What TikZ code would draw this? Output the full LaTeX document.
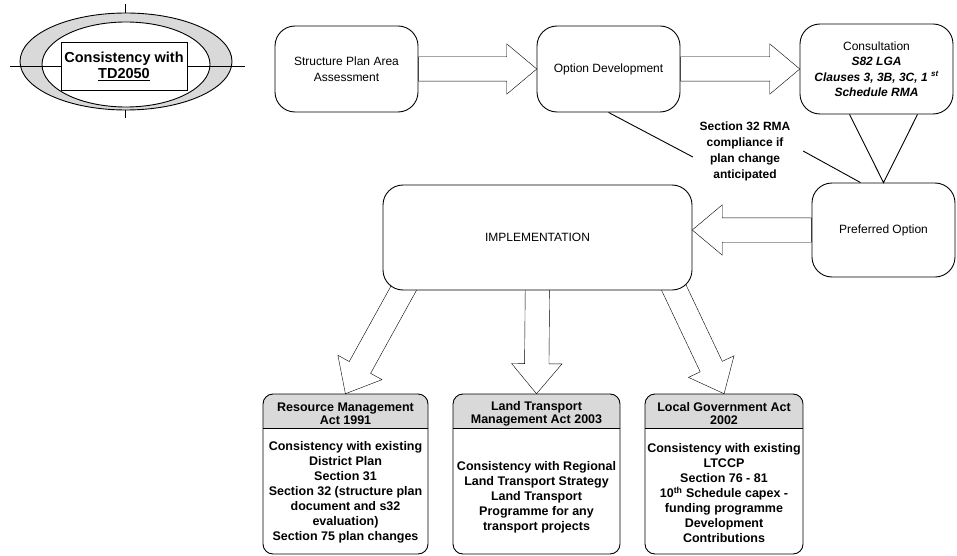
\documentclass[tikz,border=0pt]{standalone}
\usepackage{fontspec}
\setmainfont{Liberation Sans}
\usetikzlibrary{shapes.arrows,calc,backgrounds}
\begin{document}
\begin{tikzpicture}[x=1pt, y=-1pt, line width=0.9pt,
    stagebox/.style={draw, fill=white, rounded corners=20pt, align=center, font=\fontsize{12}{16}\selectfont},
    actbox/.style={draw, fill=white, rounded corners=10pt, minimum height=160pt,
      path picture={\fill[gray!30, sharp corners] (path picture bounding box.north west) rectangle ([yshift=-34pt]path picture bounding box.north east);
        \draw[sharp corners] ([yshift=-34pt]path picture bounding box.north west) -- ([yshift=-34pt]path picture bounding box.north east);}},
    acthead/.style={align=center, font=\fontsize{12.5}{13}\selectfont\bfseries},
    actbody/.style={align=center, font=\fontsize{12.5}{15}\selectfont\bfseries},
    bigarrow/.style={single arrow, draw, fill=white, inner sep=0pt, inner ysep=12pt, minimum width=50pt,
      single arrow head extend=13pt, single arrow tip angle=80, anchor=tail}]
    \useasboundingbox (0,0) rectangle (957,556);
    \draw (125,4) -- (125,118);
    \filldraw[fill=gray!30] (126,61.5) ellipse [x radius=106pt, y radius=48.5pt];
    \filldraw[fill=white] (126,64.5) ellipse [x radius=84pt, y radius=42.5pt];
    \draw (10,66) -- (245,66);
    \node[draw, fill=white, minimum width=126pt, minimum height=48pt, align=center,
      font=\fontsize{14.5}{16}\selectfont\bfseries] (td) at (124,66) {Consistency with\\\underline{TD2050}};

    \node[stagebox, minimum width=143pt, minimum height=86pt] (spa) at (346.5,69) {Structure Plan Area\\Assessment};
    \node[stagebox, minimum width=143pt, minimum height=86pt] (od) at (608.5,69) {Option Development};
    \node[stagebox, minimum width=153pt, minimum height=90pt, font=\fontsize{12}{15.5}\selectfont] (cons) at (876.5,69)
      {Consultation\\\textbf{\textit{S82 LGA}}\\\textbf{\textit{Clauses 3, 3B, 3C, 1 \textsuperscript{st}}}\\\textbf{\textit{Schedule RMA}}};
    \node[stagebox, minimum width=143pt, minimum height=94pt] (pref) at (883.5,230) {Preferred Option};
    \node[stagebox, minimum width=309pt, minimum height=105pt] (impl) at (537.5,237.5) {IMPLEMENTATION};

    \node[align=center, font=\fontsize{12}{16}\selectfont\bfseries] (s32) at (745,151)
      {Section 32 RMA\\compliance if\\plan change\\anticipated};
    \draw (od.south) -- ([shift={(-3pt,-6pt)}]s32.west);
    \draw ([xshift=9pt]s32.east) -- ([xshift=-23pt]pref.north);
    \draw ([xshift=-27pt]cons.south) -- (pref.north) -- ([xshift=41pt]cons.south);

    \foreach \nm/\cx/\w in {rma/345.5/165, ltma/536.5/167, lga/724/158}
      \node[actbox, minimum width=\w pt] (\nm) at (\cx,474) {};
    \node[acthead] (rmahead) at (345.5,413.5) {Resource Management\\Act 1991};
    \node[actbody] (rmabody) at (345.5,492) {Consistency with existing\\District Plan\\Section 31\\Section 32 (structure plan\\document and s32\\evaluation)\\Section 75 plan changes};
    \node[acthead] (ltmahead) at (536.5,413.5) {Land Transport\\Management Act 2003};
    \node[actbody] (ltmabody) at (536.5,497) {Consistency with Regional\\Land Transport Strategy\\Land Transport\\Programme for any\\transport projects};
    \node[acthead] (lgahead) at (724,413.5) {Local Government Act\\2002};
    \node[actbody] (lgabody) at (724,493) {Consistency with existing\\LTCCP\\Section 76 - 81\\10\textsuperscript{th} Schedule capex -\\funding programme\\Development\\Contributions};

    \coordinate (implin) at (impl.east |- pref.west);
    \coordinate (rmaout) at ([shift={(26pt,11pt)}]impl.south west);
    \coordinate (ltmaout) at ([yshift=10pt]impl.south);
    \coordinate (lgaout) at ([shift={(-23pt,12pt)}]impl.south east);
    \begin{scope}[on background layer]
      \foreach \from/\to in {spa.east/od.west, od.east/cons.west, pref.west/implin,
          rmaout/rma.north, ltmaout/ltma.north, lgaout/lga.north}
        \path let \p1=(\from), \p2=(\to), \n1={atan2(\y2-\y1,\x2-\x1)}, \n2={veclen(\x2-\x1,\y2-\y1)} in
          node[bigarrow, minimum height=\n2, rotate=\n1] at (\from) {};
    \end{scope}
\end{tikzpicture}
\end{document}
